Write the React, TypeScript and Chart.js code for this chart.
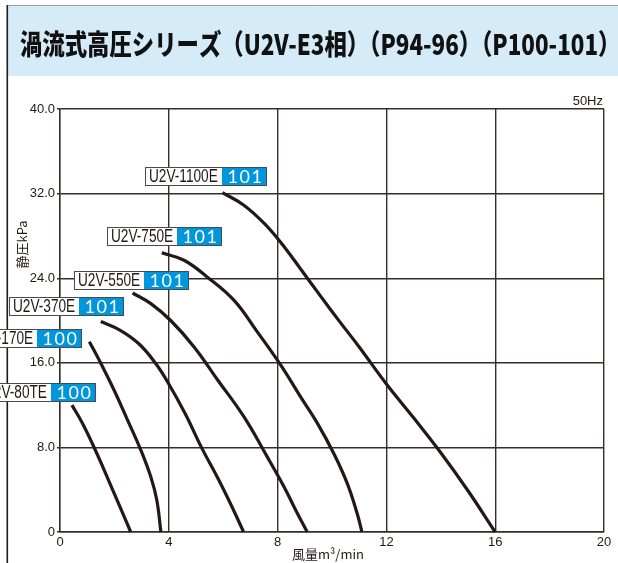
import React, { useEffect, useRef } from 'react';
import { Chart, registerables } from 'chart.js';

Chart.register(...registerables);

// ---- text ----
const TITLE = '渦流式高圧シリーズ（U2V-E3相）（P94-96）（P100-101）';
const FREQ_LABEL = '50Hz';
const X_TITLE = '風量m³/min';
const Y_TITLE = '静圧kPa';

// ---- axes ----
const X_MIN = 0;
const X_MAX = 20;
const X_STEP = 4;
const Y_MIN = 0;
const Y_MAX = 40;
const Y_STEP = 8;

// ---- series (flow m³/min, static pressure kPa) ----
const seriesNames = ['U2V-80TE', 'U2V-170E', 'U2V-370E', 'U2V-550E', 'U2V-750E', 'U2V-1100E'];
const pageRefs = ['100', '100', '101', '101', '101', '101'];

const flow80TE = [0.44, 0.8, 1.2, 1.6, 2.0, 2.3, 2.6];
const pressure80TE = [12.0, 10.4, 8.3, 6.0, 3.6, 1.8, 0];

const flow170E = [1.08, 1.5, 1.99, 2.48, 2.97, 3.34, 3.56, 3.71];
const pressure170E = [18.0, 15.95, 13.4, 10.6, 7.75, 5.2, 3.0, 0];

const flow370E = [1.5, 2.2, 2.9, 3.5, 4.0, 4.6, 5.2, 5.8, 6.3, 6.75];
const pressure370E = [19.9, 19.1, 17.8, 16.0, 14.0, 11.2, 8.0, 5.1, 2.5, 0];

const flow550E = [2.67, 3.34, 4.07, 4.93, 5.79, 6.76, 7.62, 8.23, 8.72, 9.09];
const pressure550E = [22.6, 21.6, 20.0, 17.5, 14.4, 10.9, 7.1, 4.3, 1.8, 0];

const flow750E = [3.74, 4.56, 5.42, 6.4, 7.26, 8.11, 8.84, 9.46, 10.07, 10.56, 10.92, 11.1];
const pressure750E = [26.4, 25.7, 24.1, 21.9, 18.9, 15.8, 12.8, 10.3, 7.4, 4.6, 1.8, 0];

const flow1100E = [5.97, 6.76, 7.5, 8.11, 8.84, 9.58, 10.31, 11.0, 12.0, 13.0, 14.0, 15.0, 16.0];
const pressure1100E = [32.1, 30.9, 29.2, 27.4, 24.9, 22.3, 19.8, 17.5, 14.0, 10.8, 7.5, 3.9, 0];

const seriesFlows = [flow80TE, flow170E, flow370E, flow550E, flow750E, flow1100E];
const seriesPressures = [pressure80TE, pressure170E, pressure370E, pressure550E, pressure750E, pressure1100E];

// label tag anchors in data units (split between name and page ref, vertical centre)
const labelSplitX = [-0.34, -0.83, 0.71, 3.09, 4.29, 5.96];
const labelCenterY = [13.2, 18.3, 21.3, 23.8, 27.9, 33.6];
const yTitleCenterValue = 27.2;

// ---- style ----
const INK = '#231815';
const GRID = '#342d2b';
const BLUE = '#0096dc';
const BAND = '#d6ebf8';
const LATIN = '"Liberation Sans", Arial, "Noto Sans CJK JP", sans-serif';
const CJK = '"Noto Sans CJK JP", "Liberation Sans", sans-serif';

const decorPlugin = {
  id: 'decor',
  beforeDraw(chart: any) {
    const ctx = chart.ctx as CanvasRenderingContext2D;
    const W = chart.width;
    const H = chart.height;
    ctx.save();
    ctx.fillStyle = '#ffffff';
    ctx.fillRect(0, 0, W, H);
    // title band
    ctx.fillStyle = BAND;
    ctx.fillRect(7, 6, W - 7, 70);
    ctx.strokeStyle = '#a0a0a0';
    ctx.lineWidth = 1;
    ctx.beginPath();
    ctx.moveTo(7, 5.5);
    ctx.lineTo(W, 5.5);
    ctx.stroke();
    // left rule
    ctx.strokeStyle = INK;
    ctx.lineWidth = 1.6;
    ctx.beginPath();
    ctx.moveTo(7.3, 5);
    ctx.lineTo(7.3, H);
    ctx.stroke();
    // title
    ctx.font = '900 28px ' + CJK;
    ctx.textBaseline = 'middle';
    ctx.textAlign = 'left';
    const m = ctx.measureText(TITLE);
    const ink = m.actualBoundingBoxLeft + m.actualBoundingBoxRight;
    const sx = 586 / ink;
    ctx.translate(20, 44);
    ctx.scale(sx, 1);
    ctx.fillStyle = '#111111';
    ctx.fillText(TITLE, m.actualBoundingBoxLeft, 0);
    ctx.restore();
  },
  afterDraw(chart: any) {
    const ctx = chart.ctx as CanvasRenderingContext2D;
    const xs = chart.scales.x;
    const ys = chart.scales.y;
    const area = chart.chartArea;
    ctx.save();

    // frequency
    ctx.font = '13px ' + LATIN;
    ctx.fillStyle = INK;
    ctx.textAlign = 'right';
    ctx.textBaseline = 'middle';
    ctx.fillText(FREQ_LABEL, area.right - 1, area.top - 8);

    // x title
    ctx.font = '13px ' + CJK;
    ctx.textAlign = 'center';
    ctx.fillText(X_TITLE, (area.left + area.right) / 2 - 4, area.bottom + 22);

    // y title
    ctx.save();
    ctx.translate(22, ys.getPixelForValue(yTitleCenterValue));
    ctx.rotate(-Math.PI / 2);
    ctx.font = '13px ' + CJK;
    ctx.fillText(Y_TITLE, 0, 0);
    ctx.restore();

    // series tags
    const h = 19;
    const blueW = 45;
    const condense = 0.78;
    for (let i = 0; i < seriesNames.length; i++) {
      const split = Math.round(xs.getPixelForValue(labelSplitX[i]));
      const cy = ys.getPixelForValue(labelCenterY[i]);
      const top = Math.round(cy - h / 2);
      ctx.font = '17.5px ' + LATIN;
      const tw = ctx.measureText(seriesNames[i]).width * condense;
      const whiteW = Math.round(tw + 8);
      const left = split - whiteW;
      ctx.fillStyle = '#ffffff';
      ctx.fillRect(left, top, whiteW, h);
      ctx.fillStyle = BLUE;
      ctx.fillRect(split, top, blueW, h);
      ctx.strokeStyle = '#4a4a4a';
      ctx.lineWidth = 1;
      ctx.strokeRect(left + 0.5, top + 0.5, whiteW + blueW - 1, h - 1);
      // name
      ctx.save();
      ctx.translate(left + 4, top + h / 2 + 0.5);
      ctx.scale(condense, 1);
      ctx.fillStyle = INK;
      ctx.textAlign = 'left';
      ctx.textBaseline = 'middle';
      ctx.fillText(seriesNames[i], 0, 0);
      ctx.restore();
      // page ref
      ctx.font = '18px Lato, ' + LATIN;
      ctx.fillStyle = '#ffffff';
      ctx.textAlign = 'center';
      ctx.textBaseline = 'middle';
      (ctx as any).letterSpacing = '1.5px';
      ctx.fillText(pageRefs[i], split + blueW / 2 + 1, top + h / 2 + 0.5);
      (ctx as any).letterSpacing = '0px';
    }
    ctx.restore();
  },
};

export default function App() {
  const canvasRef = useRef<HTMLCanvasElement | null>(null);

  useEffect(() => {
    if (!canvasRef.current) return;
    const datasets = seriesNames.map((name, i) => ({
      label: name,
      data: seriesFlows[i].map((x, j) => ({ x, y: seriesPressures[i][j] })),
      showLine: true,
      borderColor: INK,
      backgroundColor: INK,
      borderWidth: 3.2,
      pointRadius: 0,
      pointHoverRadius: 0,
      tension: 0.4,
      fill: false,
      clip: false as any,
    }));

    const chart = new Chart(canvasRef.current, {
      type: 'scatter',
      data: { datasets },
      options: {
        responsive: false,
        animation: false,
        devicePixelRatio: 1,
        events: [],
        layout: { padding: { top: 109, right: 14, left: 0, bottom: 0 } },
        plugins: {
          legend: { display: false },
          title: { display: false },
          tooltip: { enabled: false },
        },
        scales: {
          x: {
            type: 'linear',
            min: X_MIN,
            max: X_MAX,
            afterFit: (s: any) => {
              s.height = 31;
            },
            ticks: {
              stepSize: X_STEP,
              color: INK,
              padding: 3,
              font: { family: 'Liberation Sans', size: 13 },
              callback: (v: any) => String(v),
            },
            grid: { color: GRID, lineWidth: 1.4, drawTicks: false },
            border: { display: true, color: GRID, width: 1.4 },
          },
          y: {
            type: 'linear',
            min: Y_MIN,
            max: Y_MAX,
            afterFit: (s: any) => {
              s.width = 60;
            },
            ticks: {
              stepSize: Y_STEP,
              color: INK,
              padding: 2,
              font: { family: 'Liberation Sans', size: 13 },
              callback: (v: any) => (Number(v) === 0 ? '0' : Number(v).toFixed(1)),
            },
            grid: { color: GRID, lineWidth: 1.4, drawTicks: true, tickLength: 3 },
            border: { display: true, color: GRID, width: 1.4 },
          },
        },
      },
      plugins: [decorPlugin],
    });
    return () => chart.destroy();
  }, []);

  return (
    <div style={{ position: 'absolute', left: 0, top: 0, width: 618, height: 563 }}>
      <canvas ref={canvasRef} width={618} height={563} style={{ display: 'block' }} />
    </div>
  );
}
